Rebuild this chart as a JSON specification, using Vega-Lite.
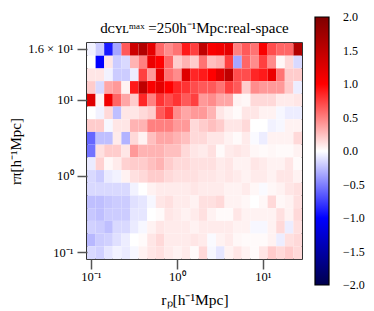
{
"$schema": "https://vega.github.io/schema/vega-lite/v6.json",
"width": 215, "height": 216,
"autosize": {"type": "none"},
"padding": {"left": 87, "top": 43, "right": 72, "bottom": 52},
"background": "white",
"title": {"text": "dᴄʏʟᵐᵃˣ =250h⁻¹Mpc:real-space", "font": "Liberation Serif", "fontSize": 15, "fontWeight": "normal", "anchor": "middle", "baseline": "alphabetic", "offset": 8, "dy": 39, "color": "black"},
"data": {"values": [
{"rp":0.1,"rpi":16,"v":-0.05},{"rp":0.1259,"rpi":16,"v":-0.2},{"rp":0.1585,"rpi":16,"v":-0.9},{"rp":0.1995,"rpi":16,"v":-0.35},{"rp":0.2512,"rpi":16,"v":0.65},{"rp":0.3162,"rpi":16,"v":1.4},{"rp":0.3981,"rpi":16,"v":1.6},{"rp":0.5012,"rpi":16,"v":1.2},{"rp":0.631,"rpi":16,"v":0.6},{"rp":0.7943,"rpi":16,"v":0.45},{"rp":1,"rpi":16,"v":0.55},{"rp":1.259,"rpi":16,"v":0.9},{"rp":1.585,"rpi":16,"v":0.75},{"rp":1.995,"rpi":16,"v":1.5},{"rp":2.512,"rpi":16,"v":1.05},{"rp":3.162,"rpi":16,"v":1.1},{"rp":3.981,"rpi":16,"v":1.2},{"rp":5.012,"rpi":16,"v":0.5},{"rp":6.31,"rpi":16,"v":0.65},{"rp":7.943,"rpi":16,"v":0.55},{"rp":10,"rpi":16,"v":1.05},{"rp":12.59,"rpi":16,"v":0.7},{"rp":15.85,"rpi":16,"v":0.6},{"rp":19.95,"rpi":16,"v":0.6},{"rp":25.12,"rpi":16,"v":1.6},
{"rp":0.1,"rpi":14.5,"v":0},{"rp":0.1259,"rpi":14.5,"v":-1.0},{"rp":0.1585,"rpi":14.5,"v":0.1},{"rp":0.1995,"rpi":14.5,"v":-0.2},{"rp":0.2512,"rpi":14.5,"v":-0.15},{"rp":0.3162,"rpi":14.5,"v":0.3},{"rp":0.3981,"rpi":14.5,"v":0.5},{"rp":0.5012,"rpi":14.5,"v":1.15},{"rp":0.631,"rpi":14.5,"v":1.0},{"rp":0.7943,"rpi":14.5,"v":0.6},{"rp":1,"rpi":14.5,"v":0.2},{"rp":1.259,"rpi":14.5,"v":0.3},{"rp":1.585,"rpi":14.5,"v":0.2},{"rp":1.995,"rpi":14.5,"v":0.55},{"rp":2.512,"rpi":14.5,"v":0.25},{"rp":3.162,"rpi":14.5,"v":0.3},{"rp":3.981,"rpi":14.5,"v":0.75},{"rp":5.012,"rpi":14.5,"v":-0.35},{"rp":6.31,"rpi":14.5,"v":0.6},{"rp":7.943,"rpi":14.5,"v":0.45},{"rp":10,"rpi":14.5,"v":0.75},{"rp":12.59,"rpi":14.5,"v":0.45},{"rp":15.85,"rpi":14.5,"v":0.03},{"rp":19.95,"rpi":14.5,"v":0.15},{"rp":25.12,"rpi":14.5,"v":-0.15},
{"rp":0.1,"rpi":13,"v":0.1},{"rp":0.1259,"rpi":13,"v":0.1},{"rp":0.1585,"rpi":13,"v":-0.05},{"rp":0.1995,"rpi":13,"v":-0.2},{"rp":0.2512,"rpi":13,"v":-0.2},{"rp":0.3162,"rpi":13,"v":-0.07},{"rp":0.3981,"rpi":13,"v":0.75},{"rp":0.5012,"rpi":13,"v":0.4},{"rp":0.631,"rpi":13,"v":1.2},{"rp":0.7943,"rpi":13,"v":0.55},{"rp":1,"rpi":13,"v":0.45},{"rp":1.259,"rpi":13,"v":1.25},{"rp":1.585,"rpi":13,"v":0.85},{"rp":1.995,"rpi":13,"v":0.9},{"rp":2.512,"rpi":13,"v":1.0},{"rp":3.162,"rpi":13,"v":1.25},{"rp":3.981,"rpi":13,"v":1.5},{"rp":5.012,"rpi":13,"v":0.7},{"rp":6.31,"rpi":13,"v":0.7},{"rp":7.943,"rpi":13,"v":0.85},{"rp":10,"rpi":13,"v":0.9},{"rp":12.59,"rpi":13,"v":1.15},{"rp":15.85,"rpi":13,"v":0.55},{"rp":19.95,"rpi":13,"v":0.2},{"rp":25.12,"rpi":13,"v":0.2},
{"rp":0.1,"rpi":11.5,"v":0.2},{"rp":0.1259,"rpi":11.5,"v":-0.15},{"rp":0.1585,"rpi":11.5,"v":0.35},{"rp":0.1995,"rpi":11.5,"v":0.4},{"rp":0.2512,"rpi":11.5,"v":0.05},{"rp":0.3162,"rpi":11.5,"v":0.9},{"rp":0.3981,"rpi":11.5,"v":1.5},{"rp":0.5012,"rpi":11.5,"v":1.05},{"rp":0.631,"rpi":11.5,"v":1.2},{"rp":0.7943,"rpi":11.5,"v":1.0},{"rp":1,"rpi":11.5,"v":0.85},{"rp":1.259,"rpi":11.5,"v":0.8},{"rp":1.585,"rpi":11.5,"v":0.7},{"rp":1.995,"rpi":11.5,"v":0.65},{"rp":2.512,"rpi":11.5,"v":0.65},{"rp":3.162,"rpi":11.5,"v":0.55},{"rp":3.981,"rpi":11.5,"v":0.75},{"rp":5.012,"rpi":11.5,"v":0.65},{"rp":6.31,"rpi":11.5,"v":0.2},{"rp":7.943,"rpi":11.5,"v":0.45},{"rp":10,"rpi":11.5,"v":0.4},{"rp":12.59,"rpi":11.5,"v":0.4},{"rp":15.85,"rpi":11.5,"v":0.4},{"rp":19.95,"rpi":11.5,"v":0.2},{"rp":25.12,"rpi":11.5,"v":-0.07},
{"rp":0.1,"rpi":10,"v":1.25},{"rp":0.1259,"rpi":10,"v":0.05},{"rp":0.1585,"rpi":10,"v":1.1},{"rp":0.1995,"rpi":10,"v":0.6},{"rp":0.2512,"rpi":10,"v":0.35},{"rp":0.3162,"rpi":10,"v":0.2},{"rp":0.3981,"rpi":10,"v":0.85},{"rp":0.5012,"rpi":10,"v":0.5},{"rp":0.631,"rpi":10,"v":0.8},{"rp":0.7943,"rpi":10,"v":0.7},{"rp":1,"rpi":10,"v":0.8},{"rp":1.259,"rpi":10,"v":0.65},{"rp":1.585,"rpi":10,"v":0.75},{"rp":1.995,"rpi":10,"v":0.4},{"rp":2.512,"rpi":10,"v":0.45},{"rp":3.162,"rpi":10,"v":0.35},{"rp":3.981,"rpi":10,"v":0.35},{"rp":5.012,"rpi":10,"v":0.05},{"rp":6.31,"rpi":10,"v":0.03},{"rp":7.943,"rpi":10,"v":0.15},{"rp":10,"rpi":10,"v":0.15},{"rp":12.59,"rpi":10,"v":0.15},{"rp":15.85,"rpi":10,"v":0.08},{"rp":19.95,"rpi":10,"v":0.08},{"rp":25.12,"rpi":10,"v":0.1},
{"rp":0.1,"rpi":6.813,"v":0},{"rp":0.1259,"rpi":6.813,"v":-0.05},{"rp":0.1585,"rpi":6.813,"v":0.15},{"rp":0.1995,"rpi":6.813,"v":-0.25},{"rp":0.2512,"rpi":6.813,"v":0.1},{"rp":0.3162,"rpi":6.813,"v":0.1},{"rp":0.3981,"rpi":6.813,"v":0.15},{"rp":0.5012,"rpi":6.813,"v":0.2},{"rp":0.631,"rpi":6.813,"v":0.65},{"rp":0.7943,"rpi":6.813,"v":0.8},{"rp":1,"rpi":6.813,"v":0.45},{"rp":1.259,"rpi":6.813,"v":0.35},{"rp":1.585,"rpi":6.813,"v":0.4},{"rp":1.995,"rpi":6.813,"v":0.4},{"rp":2.512,"rpi":6.813,"v":0.3},{"rp":3.162,"rpi":6.813,"v":0.1},{"rp":3.981,"rpi":6.813,"v":0.05},{"rp":5.012,"rpi":6.813,"v":0.02},{"rp":6.31,"rpi":6.813,"v":0.1},{"rp":7.943,"rpi":6.813,"v":0.1},{"rp":10,"rpi":6.813,"v":0.05},{"rp":12.59,"rpi":6.813,"v":0.05},{"rp":15.85,"rpi":6.813,"v":-0.03},{"rp":19.95,"rpi":6.813,"v":-0.07},{"rp":25.12,"rpi":6.813,"v":-0.07},
{"rp":0.1,"rpi":4.642,"v":0.2},{"rp":0.1259,"rpi":4.642,"v":0.2},{"rp":0.1585,"rpi":4.642,"v":-0.03},{"rp":0.1995,"rpi":4.642,"v":0.1},{"rp":0.2512,"rpi":4.642,"v":0.1},{"rp":0.3162,"rpi":4.642,"v":0.3},{"rp":0.3981,"rpi":4.642,"v":0.3},{"rp":0.5012,"rpi":4.642,"v":0.5},{"rp":0.631,"rpi":4.642,"v":0.5},{"rp":0.7943,"rpi":4.642,"v":0.5},{"rp":1,"rpi":4.642,"v":0.4},{"rp":1.259,"rpi":4.642,"v":0.4},{"rp":1.585,"rpi":4.642,"v":0.15},{"rp":1.995,"rpi":4.642,"v":0.2},{"rp":2.512,"rpi":4.642,"v":0.25},{"rp":3.162,"rpi":4.642,"v":0.2},{"rp":3.981,"rpi":4.642,"v":0.1},{"rp":5.012,"rpi":4.642,"v":0.1},{"rp":6.31,"rpi":4.642,"v":0.15},{"rp":7.943,"rpi":4.642,"v":0},{"rp":10,"rpi":4.642,"v":0},{"rp":12.59,"rpi":4.642,"v":-0.05},{"rp":15.85,"rpi":4.642,"v":-0.03},{"rp":19.95,"rpi":4.642,"v":0.05},{"rp":25.12,"rpi":4.642,"v":0.05},
{"rp":0.1,"rpi":3.162,"v":-0.6},{"rp":0.1259,"rpi":3.162,"v":-0.25},{"rp":0.1585,"rpi":3.162,"v":-0.25},{"rp":0.1995,"rpi":3.162,"v":0.08},{"rp":0.2512,"rpi":3.162,"v":-0.3},{"rp":0.3162,"rpi":3.162,"v":0.15},{"rp":0.3981,"rpi":3.162,"v":0.05},{"rp":0.5012,"rpi":3.162,"v":0.25},{"rp":0.631,"rpi":3.162,"v":0.35},{"rp":0.7943,"rpi":3.162,"v":0.35},{"rp":1,"rpi":3.162,"v":0.3},{"rp":1.259,"rpi":3.162,"v":0.25},{"rp":1.585,"rpi":3.162,"v":0.15},{"rp":1.995,"rpi":3.162,"v":0.15},{"rp":2.512,"rpi":3.162,"v":0.1},{"rp":3.162,"rpi":3.162,"v":0.1},{"rp":3.981,"rpi":3.162,"v":0.05},{"rp":5.012,"rpi":3.162,"v":0.02},{"rp":6.31,"rpi":3.162,"v":0.08},{"rp":7.943,"rpi":3.162,"v":-0.02},{"rp":10,"rpi":3.162,"v":-0.07},{"rp":12.59,"rpi":3.162,"v":0.05},{"rp":15.85,"rpi":3.162,"v":0.05},{"rp":19.95,"rpi":3.162,"v":0.05},{"rp":25.12,"rpi":3.162,"v":0.15},
{"rp":0.1,"rpi":2.154,"v":-0.55},{"rp":0.1259,"rpi":2.154,"v":0.12},{"rp":0.1585,"rpi":2.154,"v":0.2},{"rp":0.1995,"rpi":2.154,"v":0.2},{"rp":0.2512,"rpi":2.154,"v":0.1},{"rp":0.3162,"rpi":2.154,"v":0.4},{"rp":0.3981,"rpi":2.154,"v":0.3},{"rp":0.5012,"rpi":2.154,"v":0.3},{"rp":0.631,"rpi":2.154,"v":0.3},{"rp":0.7943,"rpi":2.154,"v":0.25},{"rp":1,"rpi":2.154,"v":0.25},{"rp":1.259,"rpi":2.154,"v":0.15},{"rp":1.585,"rpi":2.154,"v":0.1},{"rp":1.995,"rpi":2.154,"v":0.08},{"rp":2.512,"rpi":2.154,"v":0.12},{"rp":3.162,"rpi":2.154,"v":0.02},{"rp":3.981,"rpi":2.154,"v":0.08},{"rp":5.012,"rpi":2.154,"v":0.1},{"rp":6.31,"rpi":2.154,"v":0.08},{"rp":7.943,"rpi":2.154,"v":0.03},{"rp":10,"rpi":2.154,"v":0.02},{"rp":12.59,"rpi":2.154,"v":0.03},{"rp":15.85,"rpi":2.154,"v":0.02},{"rp":19.95,"rpi":2.154,"v":0.02},{"rp":25.12,"rpi":2.154,"v":0.05},
{"rp":0.1,"rpi":1.468,"v":-0.08},{"rp":0.1259,"rpi":1.468,"v":0.18},{"rp":0.1585,"rpi":1.468,"v":0.03},{"rp":0.1995,"rpi":1.468,"v":0.08},{"rp":0.2512,"rpi":1.468,"v":0.18},{"rp":0.3162,"rpi":1.468,"v":0.2},{"rp":0.3981,"rpi":1.468,"v":0.2},{"rp":0.5012,"rpi":1.468,"v":0.25},{"rp":0.631,"rpi":1.468,"v":0.3},{"rp":0.7943,"rpi":1.468,"v":0.2},{"rp":1,"rpi":1.468,"v":0.15},{"rp":1.259,"rpi":1.468,"v":0.15},{"rp":1.585,"rpi":1.468,"v":0.12},{"rp":1.995,"rpi":1.468,"v":0.12},{"rp":2.512,"rpi":1.468,"v":0.12},{"rp":3.162,"rpi":1.468,"v":0.08},{"rp":3.981,"rpi":1.468,"v":0.1},{"rp":5.012,"rpi":1.468,"v":0.05},{"rp":6.31,"rpi":1.468,"v":0.05},{"rp":7.943,"rpi":1.468,"v":0.1},{"rp":10,"rpi":1.468,"v":0.08},{"rp":12.59,"rpi":1.468,"v":0.05},{"rp":15.85,"rpi":1.468,"v":0.05},{"rp":19.95,"rpi":1.468,"v":0.1},{"rp":25.12,"rpi":1.468,"v":0.02},
{"rp":0.1,"rpi":1,"v":-0.15},{"rp":0.1259,"rpi":1,"v":-0.2},{"rp":0.1585,"rpi":1,"v":-0.08},{"rp":0.1995,"rpi":1,"v":-0.05},{"rp":0.2512,"rpi":1,"v":0.05},{"rp":0.3162,"rpi":1,"v":0.12},{"rp":0.3981,"rpi":1,"v":0.15},{"rp":0.5012,"rpi":1,"v":0.2},{"rp":0.631,"rpi":1,"v":0.2},{"rp":0.7943,"rpi":1,"v":0.15},{"rp":1,"rpi":1,"v":0.12},{"rp":1.259,"rpi":1,"v":0.12},{"rp":1.585,"rpi":1,"v":0.12},{"rp":1.995,"rpi":1,"v":0.1},{"rp":2.512,"rpi":1,"v":0.1},{"rp":3.162,"rpi":1,"v":0.08},{"rp":3.981,"rpi":1,"v":0.1},{"rp":5.012,"rpi":1,"v":0.08},{"rp":6.31,"rpi":1,"v":0.05},{"rp":7.943,"rpi":1,"v":0.08},{"rp":10,"rpi":1,"v":0.08},{"rp":12.59,"rpi":1,"v":0.05},{"rp":15.85,"rpi":1,"v":0.1},{"rp":19.95,"rpi":1,"v":0.1},{"rp":25.12,"rpi":1,"v":0.05},
{"rp":0.1,"rpi":0.6813,"v":-0.15},{"rp":0.1259,"rpi":0.6813,"v":-0.15},{"rp":0.1585,"rpi":0.6813,"v":-0.15},{"rp":0.1995,"rpi":0.6813,"v":-0.15},{"rp":0.2512,"rpi":0.6813,"v":-0.15},{"rp":0.3162,"rpi":0.6813,"v":-0.05},{"rp":0.3981,"rpi":0.6813,"v":0},{"rp":0.5012,"rpi":0.6813,"v":0.05},{"rp":0.631,"rpi":0.6813,"v":0.08},{"rp":0.7943,"rpi":0.6813,"v":0.08},{"rp":1,"rpi":0.6813,"v":0.08},{"rp":1.259,"rpi":0.6813,"v":0.08},{"rp":1.585,"rpi":0.6813,"v":0.1},{"rp":1.995,"rpi":0.6813,"v":0.08},{"rp":2.512,"rpi":0.6813,"v":0.08},{"rp":3.162,"rpi":0.6813,"v":0.08},{"rp":3.981,"rpi":0.6813,"v":0.05},{"rp":5.012,"rpi":0.6813,"v":0.05},{"rp":6.31,"rpi":0.6813,"v":0.08},{"rp":7.943,"rpi":0.6813,"v":0.03},{"rp":10,"rpi":0.6813,"v":-0.02},{"rp":12.59,"rpi":0.6813,"v":0.03},{"rp":15.85,"rpi":0.6813,"v":0.05},{"rp":19.95,"rpi":0.6813,"v":0.1},{"rp":25.12,"rpi":0.6813,"v":0.12},
{"rp":0.1,"rpi":0.4642,"v":-0.25},{"rp":0.1259,"rpi":0.4642,"v":-0.25},{"rp":0.1585,"rpi":0.4642,"v":-0.22},{"rp":0.1995,"rpi":0.4642,"v":-0.2},{"rp":0.2512,"rpi":0.4642,"v":-0.2},{"rp":0.3162,"rpi":0.4642,"v":-0.12},{"rp":0.3981,"rpi":0.4642,"v":-0.1},{"rp":0.5012,"rpi":0.4642,"v":-0.03},{"rp":0.631,"rpi":0.4642,"v":0.1},{"rp":0.7943,"rpi":0.4642,"v":0.12},{"rp":1,"rpi":0.4642,"v":0.08},{"rp":1.259,"rpi":0.4642,"v":0.08},{"rp":1.585,"rpi":0.4642,"v":0.05},{"rp":1.995,"rpi":0.4642,"v":0.12},{"rp":2.512,"rpi":0.4642,"v":0.12},{"rp":3.162,"rpi":0.4642,"v":0.15},{"rp":3.981,"rpi":0.4642,"v":0.05},{"rp":5.012,"rpi":0.4642,"v":0.05},{"rp":6.31,"rpi":0.4642,"v":0.03},{"rp":7.943,"rpi":0.4642,"v":0},{"rp":10,"rpi":0.4642,"v":0.03},{"rp":12.59,"rpi":0.4642,"v":0.15},{"rp":15.85,"rpi":0.4642,"v":0.03},{"rp":19.95,"rpi":0.4642,"v":0.05},{"rp":25.12,"rpi":0.4642,"v":0.12},
{"rp":0.1,"rpi":0.3162,"v":-0.22},{"rp":0.1259,"rpi":0.3162,"v":-0.25},{"rp":0.1585,"rpi":0.3162,"v":-0.2},{"rp":0.1995,"rpi":0.3162,"v":-0.2},{"rp":0.2512,"rpi":0.3162,"v":-0.2},{"rp":0.3162,"rpi":0.3162,"v":-0.1},{"rp":0.3981,"rpi":0.3162,"v":-0.1},{"rp":0.5012,"rpi":0.3162,"v":0},{"rp":0.631,"rpi":0.3162,"v":0.02},{"rp":0.7943,"rpi":0.3162,"v":0.1},{"rp":1,"rpi":0.3162,"v":0.08},{"rp":1.259,"rpi":0.3162,"v":0.05},{"rp":1.585,"rpi":0.3162,"v":0.08},{"rp":1.995,"rpi":0.3162,"v":0.12},{"rp":2.512,"rpi":0.3162,"v":0.05},{"rp":3.162,"rpi":0.3162,"v":0.02},{"rp":3.981,"rpi":0.3162,"v":0.02},{"rp":5.012,"rpi":0.3162,"v":0.1},{"rp":6.31,"rpi":0.3162,"v":0.05},{"rp":7.943,"rpi":0.3162,"v":0.05},{"rp":10,"rpi":0.3162,"v":0.05},{"rp":12.59,"rpi":0.3162,"v":0.05},{"rp":15.85,"rpi":0.3162,"v":0.12},{"rp":19.95,"rpi":0.3162,"v":0.05},{"rp":25.12,"rpi":0.3162,"v":0.15},
{"rp":0.1,"rpi":0.2154,"v":-0.18},{"rp":0.1259,"rpi":0.2154,"v":-0.2},{"rp":0.1585,"rpi":0.2154,"v":-0.25},{"rp":0.1995,"rpi":0.2154,"v":-0.15},{"rp":0.2512,"rpi":0.2154,"v":-0.15},{"rp":0.3162,"rpi":0.2154,"v":-0.08},{"rp":0.3981,"rpi":0.2154,"v":-0.03},{"rp":0.5012,"rpi":0.2154,"v":0.05},{"rp":0.631,"rpi":0.2154,"v":0.1},{"rp":0.7943,"rpi":0.2154,"v":0.08},{"rp":1,"rpi":0.2154,"v":0.08},{"rp":1.259,"rpi":0.2154,"v":0.08},{"rp":1.585,"rpi":0.2154,"v":0.05},{"rp":1.995,"rpi":0.2154,"v":0.08},{"rp":2.512,"rpi":0.2154,"v":0.08},{"rp":3.162,"rpi":0.2154,"v":0.08},{"rp":3.981,"rpi":0.2154,"v":0.08},{"rp":5.012,"rpi":0.2154,"v":0.05},{"rp":6.31,"rpi":0.2154,"v":0.05},{"rp":7.943,"rpi":0.2154,"v":-0.03},{"rp":10,"rpi":0.2154,"v":-0.03},{"rp":12.59,"rpi":0.2154,"v":0.05},{"rp":15.85,"rpi":0.2154,"v":0.15},{"rp":19.95,"rpi":0.2154,"v":-0.07},{"rp":25.12,"rpi":0.2154,"v":0.12},
{"rp":0.1,"rpi":0.1468,"v":-0.28},{"rp":0.1259,"rpi":0.1468,"v":-0.2},{"rp":0.1585,"rpi":0.1468,"v":-0.18},{"rp":0.1995,"rpi":0.1468,"v":-0.12},{"rp":0.2512,"rpi":0.1468,"v":-0.07},{"rp":0.3162,"rpi":0.1468,"v":0},{"rp":0.3981,"rpi":0.1468,"v":0.02},{"rp":0.5012,"rpi":0.1468,"v":0.1},{"rp":0.631,"rpi":0.1468,"v":0.15},{"rp":0.7943,"rpi":0.1468,"v":0.08},{"rp":1,"rpi":0.1468,"v":0.08},{"rp":1.259,"rpi":0.1468,"v":0.08},{"rp":1.585,"rpi":0.1468,"v":0.1},{"rp":1.995,"rpi":0.1468,"v":0.08},{"rp":2.512,"rpi":0.1468,"v":-0.02},{"rp":3.162,"rpi":0.1468,"v":0.05},{"rp":3.981,"rpi":0.1468,"v":0.08},{"rp":5.012,"rpi":0.1468,"v":0.03},{"rp":6.31,"rpi":0.1468,"v":0.02},{"rp":7.943,"rpi":0.1468,"v":0.02},{"rp":10,"rpi":0.1468,"v":0.02},{"rp":12.59,"rpi":0.1468,"v":0.05},{"rp":15.85,"rpi":0.1468,"v":-0.07},{"rp":19.95,"rpi":0.1468,"v":0.12},{"rp":25.12,"rpi":0.1468,"v":0.15},
{"rp":0.1,"rpi":0.1,"v":-0.15},{"rp":0.1259,"rpi":0.1,"v":-0.18},{"rp":0.1585,"rpi":0.1,"v":-0.1},{"rp":0.1995,"rpi":0.1,"v":-0.05},{"rp":0.2512,"rpi":0.1,"v":-0.08},{"rp":0.3162,"rpi":0.1,"v":-0.03},{"rp":0.3981,"rpi":0.1,"v":0.05},{"rp":0.5012,"rpi":0.1,"v":0.1},{"rp":0.631,"rpi":0.1,"v":0.12},{"rp":0.7943,"rpi":0.1,"v":0.08},{"rp":1,"rpi":0.1,"v":0.05},{"rp":1.259,"rpi":0.1,"v":0.08},{"rp":1.585,"rpi":0.1,"v":0.02},{"rp":1.995,"rpi":0.1,"v":0.15},{"rp":2.512,"rpi":0.1,"v":-0.03},{"rp":3.162,"rpi":0.1,"v":-0.1},{"rp":3.981,"rpi":0.1,"v":0.05},{"rp":5.012,"rpi":0.1,"v":0.1},{"rp":6.31,"rpi":0.1,"v":0.05},{"rp":7.943,"rpi":0.1,"v":0.02},{"rp":10,"rpi":0.1,"v":0.1},{"rp":12.59,"rpi":0.1,"v":0.2},{"rp":15.85,"rpi":0.1,"v":0.15},{"rp":19.95,"rpi":0.1,"v":0.2},{"rp":25.12,"rpi":0.1,"v":0.15}
]},
"mark": {"type": "rect"},
"encoding": {
  "x": {"field": "rp", "type": "ordinal", "sort": "ascending",
        "scale": {"paddingInner": 0, "paddingOuter": 0},
        "axis": {"values": [0.1, 1, 10], "labelExpr": "datum.value == 0.1 ? '10⁻¹' : datum.value == 1 ? '10⁰' : '10¹'",
                 "labelAngle": 0, "labelPadding": 1, "title": "rₚ[h⁻¹Mpc]", "titleX": 107.5, "titleY": 40, "titleBaseline": "middle", "titleFontSize": 15.5}},
  "y": {"field": "rpi", "type": "ordinal", "sort": "descending",
        "scale": {"paddingInner": 0, "paddingOuter": 0},
        "axis": {"values": [0.1, 1, 10, 16], "labelExpr": "datum.value == 0.1 ? '10⁻¹' : datum.value == 1 ? '10⁰' : datum.value == 10 ? '10¹' : '1.6 × 10¹'",
                 "labelPadding": 4, "title": "rπ[h⁻¹Mpc]", "titleX": -72, "titleY": 108, "titleBaseline": "middle", "titleAngle": -90, "titleFontSize": 15}},
  "color": {"field": "v", "type": "quantitative",
            "scale": {"domain": [-2, -1, 0, 1, 2], "range": ["#00004c", "#0000ff", "#ffffff", "#ff0000", "#7f0000"], "interpolate": "rgb", "clamp": true},
            "legend": {"orient": "none", "legendX": 228, "legendY": -26, "direction": "vertical", "title": null,
                       "gradientLength": 268, "gradientThickness": 14, "gradientStrokeColor": "black", "gradientStrokeWidth": 1.2,
                       "values": [-2, -1.5, -1, -0.5, 0, 0.5, 1, 1.5, 2], "labelOverlap": false,
                       "labelExpr": "replace(format(datum.value, '.1f'), '-', '−')",
                       "labelFont": "Liberation Serif", "labelFontSize": 12, "labelColor": "black", "labelOffset": 14, "padding": 0,
                       "encode": {"labels": {"update": {"baseline": {"value": "middle"}}}}}}
},
"config": {
  "view": {"stroke": "black", "strokeWidth": 1.6},
  "axis": {"domain": false, "grid": false, "tickSize": 10, "tickColor": "#555", "tickWidth": 1.5,
           "labelFont": "Liberation Serif", "labelFontSize": 12.5, "labelColor": "black",
           "titleFont": "Liberation Serif", "titleFontWeight": "normal", "titleColor": "black"}
}
}
